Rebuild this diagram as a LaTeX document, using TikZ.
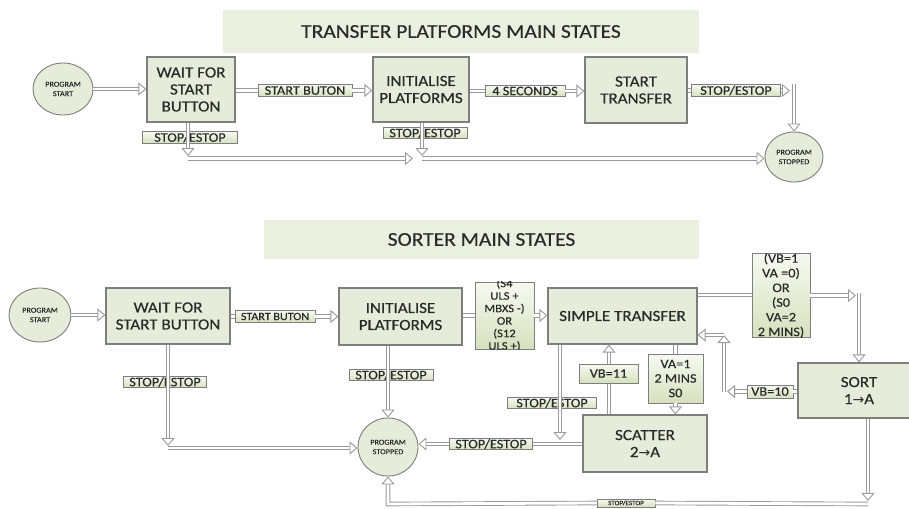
\documentclass[tikz,border=0pt]{standalone}
\usepackage{fontspec}
\setmainfont{Carlito}[FakeStretch=1.1, FakeBold=0.4]
\newfontfamily\arrowf{DejaVu Sans}
\usetikzlibrary{arrows.meta,shapes.geometric,calc}
\definecolor{boxfill}{HTML}{E7ECDA}
\definecolor{bannerfill}{HTML}{EAEFDF}
\definecolor{boxline}{HTML}{7E7E7E}
\definecolor{arrowgray}{HTML}{9A9A9A}
\definecolor{txt}{HTML}{2A2A2A}
\definecolor{lbltop}{HTML}{F7F9F1}
\definecolor{lblbot}{HTML}{D6E1BE}
\begin{document}
\begin{tikzpicture}[x=1pt,y=-1pt,
  every node/.style={text=txt},
  state/.style={draw=boxline, fill=boxfill, line width=1.2pt, inner sep=0pt, align=center, font=\fontsize{15.5}{17}\selectfont},
  oval/.style={ellipse, draw=boxline, fill=boxfill, line width=0.9pt, inner sep=0pt, align=center, font=\fontsize{7.5}{9.5}\selectfont},
  lbl/.style={draw=boxline, line width=0.8pt, top color=lbltop, bottom color=lblbot, inner sep=0pt, minimum height=11.5pt, font=\fontsize{13}{13}\selectfont},
  cond/.style={draw=boxline, line width=0.8pt, top color=lbltop, bottom color=lblbot, inner sep=0pt},
  condtext/.style={align=center, inner sep=0pt},
  banner/.style={fill=bannerfill, inner sep=0pt, font=\fontsize{19.5}{22}\selectfont},
  ln/.style={draw=arrowgray, line width=0.9pt, double=white, double distance=2.8pt},
  arr/.style={ln, -{Triangle[length=8pt, width=13pt, fill=white]}},
]
\useasboundingbox (0,0) rectangle (909,508);
\fill[white] (0,0) rectangle (909,508);

% ---------------- top section ----------------
\node[banner, minimum width=476pt, minimum height=43pt] (ban1) at (461,31.5) {TRANSFER PLATFORMS MAIN STATES};
\node[oval, minimum width=60pt, minimum height=52pt] (ps1) at (63,89) {PROGRAM\\START};
\node[state, minimum width=88pt, minimum height=65pt] (w1) at (191,89.5) {WAIT FOR\\START\\BUTTON};
\node[state, minimum width=96pt, minimum height=65pt] (i1) at (421,89.5) {INITIALISE\\PLATFORMS};
\node[state, minimum width=102pt, minimum height=66pt] (t1) at (636,90) {START\\TRANSFER};
\node[oval, minimum width=58pt, minimum height=50pt] (pst1) at (794,157) {PROGRAM\\STOPPED};
\node[lbl, minimum width=94pt] (l1) at (305,90.5) {START BUTON};
\node[lbl, minimum width=80pt] (l2) at (525,91) {4 SECONDS};
\node[lbl, minimum width=89pt] (l3) at (736,90.5) {STOP/ESTOP};
\node[lbl, minimum width=95pt] (l4) at (190,137.5) {STOP/ESTOP};
\node[lbl, minimum width=84pt] (l5) at (425,133) {STOP/ESTOP};

\draw[arr] (ps1.east) -- (w1.west |- ps1);
\draw[ln] (w1.east |- l1) -- (l1.west);
\draw[arr] (l1.east) -- (i1.west |- l1);
\draw[ln] (i1.east |- l2) -- (l2.west);
\draw[arr] (l2.east) -- (t1.west |- l2);
\draw[ln] (t1.east |- l3) -- (l3.west);
\coordinate (c1) at (790,90.5);
\draw[arr] (l3.east) -- (c1);
\draw[arr] (pst1.north |- l3.north) -- (pst1.north);

\coordinate (j1) at (188,156);
\coordinate (j2) at (413,158.5);
\coordinate (j3) at (422,156);
\draw[arr] (w1.south -| j1) -- (j1);
\draw[arr] (j1 |- j2) -- (j2);
\draw[arr] (i1.south -| j3) -- (j3);
\draw[arr] (j3 |- j2) -- (pst1.west |- j2);

% ---------------- bottom section ----------------
\node[banner, minimum width=435pt, minimum height=39pt] (ban2) at (481.5,239.5) {SORTER MAIN STATES};
\node[oval, minimum width=62pt, minimum height=54pt] (ps2) at (40,315) {PROGRAM\\START};
\node[state, minimum width=124pt, minimum height=56pt] (w2) at (168,316) {WAIT FOR\\START BUTTON};
\node[state, minimum width=123pt, minimum height=57pt] (i2) at (400.5,316.5) {INITIALISE\\PLATFORMS};
\node[state, minimum width=149pt, minimum height=56pt] (st) at (622.5,316) {SIMPLE TRANSFER};
\node[state, minimum width=122pt, minimum height=55pt] (so) at (859,390.5) {SORT\\1{\arrowf\fontsize{14}{15}\selectfont →}A};
\node[state, minimum width=124pt, minimum height=57pt] (sc) at (645,443.5) {SCATTER\\2{\arrowf\fontsize{14}{15}\selectfont →}A};
\node[oval, minimum width=60pt, minimum height=58pt] (pst2) at (388,447) {PROGRAM\\STOPPED};

\node[cond, minimum width=59pt, minimum height=67pt] (k1) at (504.5,315.5) {};
\begin{scope}
\clip (k1.south west) rectangle (k1.north east);
\node[condtext, font=\fontsize{11.5}{12.5}\selectfont] at (504.5,315) {(S4\\ULS +\\MBXS -)\\OR\\(S12\\ULS +)};
\end{scope}
\node[cond, minimum width=58pt, minimum height=84pt] (k2) at (781,295) {};
\begin{scope}
\clip (k2.south west) rectangle (k2.north east);
\node[condtext, font=\fontsize{13}{14.7}\selectfont] at (781,295.5) {(VB=1\\VA =0)\\OR\\(S0\\VA=2\\2 MINS)};
\end{scope}
\node[cond, minimum width=55pt, minimum height=49pt, align=center, font=\fontsize{13}{14.5}\selectfont] (k3) at (675.5,378.5) {VA=1\\2 MINS\\S0};

\node[lbl, minimum width=80pt, font=\fontsize{11}{12}\selectfont] (m1) at (275,316.5) {START BUTON};
\node[lbl, minimum width=46pt, minimum height=13pt] (vb10) at (770,391.5) {VB=10};
\node[lbl, minimum width=89pt] (s1) at (552,403) {STOP/ESTOP};
\node[lbl, minimum width=83pt] (s2) at (491,444) {STOP/ESTOP};
\node[lbl, minimum width=83pt] (s3) at (165,382) {STOP/ESTOP};
\node[lbl, minimum width=84pt] (s4) at (391,375) {STOP/ESTOP};
\node[lbl, minimum width=58pt, minimum height=8pt, font=\fontsize{6.5}{7}\selectfont] (s5) at (626,503) {STOP/ESTOP};

\draw[arr] (ps2.east) -- (w2.west |- ps2);
\draw[ln] (w2.east |- m1) -- (m1.west);
\draw[arr] (m1.east) -- (i2.west |- m1);
\draw[ln] (i2.east |- k1) -- (k1.west);
\draw[arr] (k1.east) -- (st.west |- k1);
\draw[ln] (st.east |- k2) -- (k2.west);
\coordinate (e1) at (856,295.5);
\coordinate (e2) at (859,293);
\draw[arr] (k2.east |- e1) -- (e1);
\draw[arr] (e2) -- (so.north -| e2);

\coordinate (f1) at (727,391.5);
\coordinate (f2) at (724,335);
\draw[ln] (so.west |- vb10) -- (vb10.east);
\draw[arr] (vb10.west) -- (f1);
\draw[arr] (f2 |- f1) -- (f2);
\draw[arr] (f2) -- (st.east |- f2);

\draw[ln] (st.south -| k3) -- (k3.north);
\draw[arr] (k3.south) -- (sc.north -| k3);

\coordinate (g1) at (609,380);
\draw[arr] (sc.north -| g1) -- (st.south -| g1);
\node[lbl, minimum width=59pt, minimum height=19pt, font=\fontsize{13}{14}\selectfont] (vb11) at (608.5,373.5) {VB=11};

\coordinate (h1) at (560,440);
\draw[arr] (st.south -| h1) -- (h1);
\draw[ln] (sc.west |- s2) -- (s2.east);
\draw[arr] (s2.west) -- (pst2.east |- s2);

\coordinate (h2) at (168,446);
\coordinate (h3) at (168,448);
\draw[arr] (w2.south -| h2) -- (h2);
\draw[arr] (h3) -- (pst2.west |- h3);

\draw[arr] (i2.south -| pst2) -- (pst2.north);

\coordinate (q1) at (868,501);
\coordinate (q2) at (868,504);
\coordinate (q3) at (388,504);
\draw[arr] (so.south -| q1) -- (q1);
\draw[ln] (q2) -- (s5.east);
\draw[arr] (s5.west) -- (q3) -- (pst2.south);
\end{tikzpicture}
\end{document}
